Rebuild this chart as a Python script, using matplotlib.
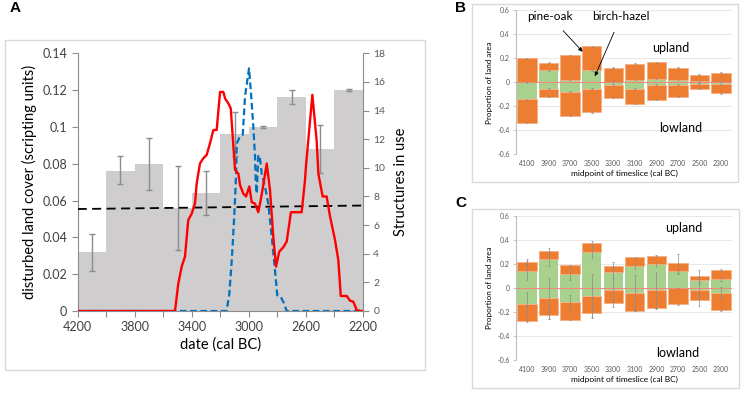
import matplotlib
matplotlib.use("Agg")
import matplotlib.pyplot as plt
from matplotlib.patches import Rectangle
import numpy as np

plt.rcParams['font.family'] = ['Lato', 'DejaVu Sans']

# ---------------- Panel A data ----------------
bin_dates = [4100, 3900, 3700, 3500, 3300, 3100, 2900, 2700, 2500, 2300]
cover = [0.032, 0.076, 0.080, 0.056, 0.064, 0.096, 0.100, 0.116, 0.088, 0.120]
cover_lo = [0.022, 0.069, 0.066, 0.033, 0.052, 0.084, 0.0995, 0.1125, 0.075, 0.1195]
cover_hi = [0.042, 0.084, 0.094, 0.079, 0.076, 0.108, 0.1005, 0.120, 0.101, 0.1205]
trend_dates = [4200, 2200]
trend_vals = [0.0554, 0.0573]

red_dates = [4200, 3518, 3495, 3471, 3448, 3425, 3401, 3378, 3366, 3343, 3320, 3296,
             3273, 3249, 3226, 3202, 3179, 3167, 3144, 3127, 3097, 3074, 3062, 3039,
             3020, 2997, 2980, 2957, 2934, 2917, 2894, 2875, 2852, 2829, 2810, 2787,
             2759, 2735, 2705, 2630, 2607, 2600, 2555, 2525, 2513, 2483, 2455, 2431,
             2396, 2373, 2356, 2314, 2291, 2268, 2244, 2220, 2200]
red_vals = [0, 0, 1.9, 3.1, 3.8, 6.35, 6.8, 7.5, 8.9, 10.3, 10.66, 10.9,
            11.7, 12.64, 12.64, 15.3, 15.3, 14.85, 14.5, 14.15, 9.85, 9.6, 8.8, 8.2,
            8.0, 8.7, 7.6, 7.5, 6.9, 7.75, 9.1, 10.3, 8.45, 5.2, 3.1, 4.15,
            4.45, 4.85, 6.9, 6.9, 9.1, 10.1, 15.1, 11.9, 9.6, 8.0, 8.0, 6.6,
            4.95, 3.55, 1.05, 1.05, 0.72, 0.65, 0.07, 0, 0]

blue_dates = [4200, 3156, 3137, 3120, 3104, 3090, 3085, 3062, 3043, 3027, 3011, 2999,
              2985, 2969, 2957, 2952, 2945, 2934, 2922, 2910, 2887, 2864, 2840, 2817,
              2801, 2777, 2754, 2735, 2200]
blue_vals = [0, 0, 1.2, 3.56, 6.35, 9.4, 11.7, 12.2, 12.3, 15.0, 16.1, 16.95,
             15.2, 12.9, 10.8, 9.15, 8.2, 10.9, 10.65, 9.6, 8.7, 7.5, 5.2, 2.86,
             1.1, 1.0, 0.54, 0, 0]

# ---------------- Panels B and C data ----------------
slices = ['4100', '3900', '3700', '3500', '3300', '3100', '2900', '2700', '2500', '2300']

B_up_total = [0.20, 0.165, 0.225, 0.30, 0.12, 0.155, 0.165, 0.12, 0.065, 0.08]
B_up_green = [0.0, 0.10, 0.02, 0.10, 0.005, 0.02, 0.03, 0.02, 0.01, 0.005]
B_low_green = [-0.14, -0.055, -0.08, -0.055, -0.02, -0.055, -0.02, -0.02, -0.01, -0.015]
B_low_total = [-0.335, -0.12, -0.28, -0.25, -0.13, -0.18, -0.145, -0.12, -0.055, -0.09]

C_up_total = [0.22, 0.31, 0.19, 0.375, 0.185, 0.255, 0.27, 0.205, 0.10, 0.15]
C_up_green = [0.145, 0.24, 0.115, 0.30, 0.13, 0.18, 0.20, 0.14, 0.065, 0.075]
C_low_green = [-0.13, -0.085, -0.115, -0.065, -0.02, -0.045, -0.02, 0.0, -0.02, -0.04]
C_low_total = [-0.275, -0.225, -0.265, -0.21, -0.125, -0.19, -0.17, -0.135, -0.10, -0.185]
C_err_up_total = [0.025, 0.02, 0.005, 0.02, 0.03, 0.005, 0.005, 0.08, 0.05, 0.005]
C_err_up_green = [0.08, 0.06, 0.05, 0.05, 0.05, 0.02, 0.02, 0.02, 0.03, 0.02]
C_err_low_green = [0.10, 0.17, 0.06, 0.18, 0.10, 0.15, 0.15, 0.0, 0.05, 0.05]
C_err_low_total = [0.01, 0.03, 0.005, 0.04, 0.03, 0.005, 0.005, 0.005, 0.05, 0.005]

W, H = 743, 396
fig = plt.figure(figsize=(W / 100, H / 100), dpi=100)

def frame(x0, y0, x1, y1):
    fig.patches.append(Rectangle((x0 / W, 1 - y1 / H), (x1 - x0) / W, (y1 - y0) / H,
                                 transform=fig.transFigure, fill=False,
                                 edgecolor='#d9d9d9', lw=1.0))

frame(5, 40, 425, 370)
frame(472, 4, 738, 182)
frame(472, 209, 739, 388)

fig.text(10 / W, 1 - 8 / H, 'A', family='Liberation Sans', weight='bold', fontsize=11, va='center')
fig.text(455 / W, 1 - 8 / H, 'B', family='Liberation Sans', weight='bold', fontsize=11, va='center')
fig.text(455 / W, 1 - 203 / H, 'C', family='Liberation Sans', weight='bold', fontsize=11, va='center')

# ---------------- Panel A ----------------
axA = fig.add_axes([77.7 / W, 1 - 311 / H, (363 - 77.7) / W, (311 - 53.3) / H])
axA.bar(bin_dates, cover, width=200, color='#cfcdcd', zorder=1)
yerr = [np.array(cover) - np.array(cover_lo), np.array(cover_hi) - np.array(cover)]
axA.errorbar(bin_dates, cover, yerr=yerr, fmt='none', ecolor='#8c8c8c', elinewidth=1.0,
             capsize=2.5, capthick=1.0, zorder=2)
axA.plot(trend_dates, trend_vals, color='black', lw=1.3, dashes=(5, 3), zorder=3)
axA.set_xlim(4200, 2200)
axA.set_ylim(0, 0.14)
axA.set_yticks(np.arange(0, 0.141, 0.02))
axA.set_yticklabels(['0', '0.02', '0.04', '0.06', '0.08', '0.1', '0.12', '0.14'])
axA.set_xticks([4200, 3800, 3400, 3000, 2600, 2200])
axA.set_xticks([4000, 3600, 3200, 2800, 2400], minor=True)
axA.tick_params(axis='both', labelsize=9, colors='#595959', length=4, width=0.8)
axA.tick_params(axis='x', which='minor', length=4, width=0.8, colors='#8c8c8c')
axA.tick_params(axis='x', which='major', colors='#8c8c8c', labelcolor='#404040')
axA.tick_params(axis='y', colors='#8c8c8c', labelcolor='#404040')
for s in ['top', 'right']:
    axA.spines[s].set_visible(False)
for s in ['left', 'bottom']:
    axA.spines[s].set_color('#8c8c8c')
    axA.spines[s].set_linewidth(0.8)
axA.set_ylabel('disturbed land cover (scripting units)', fontsize=10.5, labelpad=4)
axA.set_xlabel('date (cal BC)', fontsize=10.5, labelpad=3)

axA2 = axA.twinx()
axA2.plot(blue_dates, blue_vals, color='#0070c0', lw=1.6, dashes=(3, 1.6), zorder=3)
axA2.plot(red_dates, red_vals, color='#ff0000', lw=1.7, zorder=4)
axA2.set_ylim(0, 18)
axA2.set_xlim(4200, 2200)
axA2.set_yticks(np.arange(0, 19, 2))
axA2.tick_params(axis='y', labelsize=7.5, colors='#8c8c8c', labelcolor='#595959', length=4, width=0.8)
for s in ['top', 'left', 'bottom']:
    axA2.spines[s].set_visible(False)
axA2.spines['right'].set_color('#8c8c8c')
axA2.spines['right'].set_linewidth(0.8)
axA2.set_ylabel('Structures in use', fontsize=10.5, labelpad=6)

# ---------------- Panels B and C ----------------
orange = '#ed7d31'
green = '#a9d18e'
edge = '#f4b183'

def stacked(ax, up_t, up_g, lo_g, lo_t):
    x = np.arange(len(slices))
    up_t, up_g, lo_g, lo_t = map(np.array, (up_t, up_g, lo_g, lo_t))
    ax.bar(x, up_g, width=0.9, color=green, zorder=2)
    ax.bar(x, up_t - up_g, bottom=up_g, width=0.9, color=orange, edgecolor=edge, lw=0.6, zorder=2)
    ax.bar(x, lo_g, width=0.9, color=green, zorder=2)
    ax.bar(x, lo_t - lo_g, bottom=lo_g, width=0.9, color=orange, edgecolor=edge, lw=0.6, zorder=2)
    ax.axhline(0, color='#f08a80', lw=0.8, zorder=3)
    ax.set_xlim(-0.5, len(slices) - 0.5)
    ax.set_ylim(-0.6, 0.6)
    ax.set_yticks(np.arange(-0.6, 0.61, 0.2))
    ax.set_yticklabels(['-0.6', '-0.4', '-0.2', '0', '0.2', '0.4', '0.6'])
    ax.set_xticks(x)
    ax.set_xticklabels(slices)
    ax.yaxis.grid(True, color='#e3e3e3', lw=0.6, zorder=0)
    ax.set_axisbelow(True)
    ax.tick_params(axis='y', labelsize=5, colors='#bfbfbf', labelcolor='#595959', length=2.5, width=0.6, pad=2)
    ax.tick_params(axis='x', labelsize=5, length=0, labelcolor='#595959', pad=4)
    for s in ['top', 'right', 'bottom']:
        ax.spines[s].set_visible(False)
    ax.spines['left'].set_color('#bfbfbf')
    ax.spines['left'].set_linewidth(0.8)
    ax.set_xlabel('midpoint of timeslice (cal BC)', fontsize=6, labelpad=2)
    ax.set_ylabel('Proportion of land area', fontsize=5.8, labelpad=3)
    return x

axB = fig.add_axes([516.2 / W, 1 - 154.3 / H, (731.8 - 516.2) / W, (154.3 - 10.3) / H])
xB = stacked(axB, B_up_total, B_up_green, B_low_green, B_low_total)
for vals in (B_up_total, B_up_green, B_low_green, B_low_total):
    axB.errorbar(xB, vals, yerr=0.004, fmt='none', ecolor='#8c8c8c', elinewidth=0.5,
                 capsize=1, capthick=0.5, zorder=4)
axB.text(6.69, 0.29, 'upland', fontsize=9, ha='center', va='center')
axB.text(7.13, -0.38, 'lowland', fontsize=9, ha='center', va='center')
axB.annotate('pine-oak', xy=(2.58, 0.255), xytext=(1.06, 0.55), fontsize=8.5,
             ha='center', va='center',
             arrowprops=dict(arrowstyle='-|>', color='black', lw=0.6, mutation_scale=6,
                             shrinkA=6, shrinkB=0))
axB.annotate('birch-hazel', xy=(3.15, 0.05), xytext=(4.36, 0.55), fontsize=8.5,
             ha='center', va='center',
             arrowprops=dict(arrowstyle='-|>', color='black', lw=0.6, mutation_scale=6,
                             shrinkA=6, shrinkB=0))

axC = fig.add_axes([516.2 / W, 1 - 360 / H, (731.8 - 516.2) / W, (360 - 216) / H])
xC = stacked(axC, C_up_total, C_up_green, C_low_green, C_low_total)
for vals, err in ((C_up_total, C_err_up_total), (C_up_green, C_err_up_green),
                  (C_low_green, C_err_low_green), (C_low_total, C_err_low_total)):
    axC.errorbar(xC, vals, yerr=err, fmt='none', ecolor='#8c8c8c', elinewidth=0.5,
                 capsize=1, capthick=0.5, zorder=4)
axC.text(7.25, 0.50, 'upland', fontsize=9, ha='center', va='center')
axC.text(7.01, -0.54, 'lowland', fontsize=9, ha='center', va='center')

fig.savefig('out.png', dpi=100)
